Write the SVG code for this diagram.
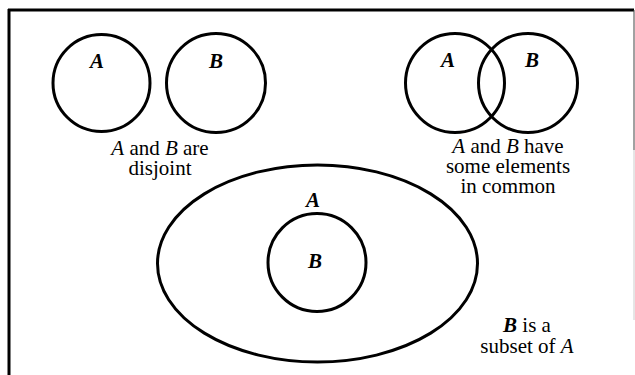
<svg xmlns="http://www.w3.org/2000/svg" width="635" height="375" viewBox="0 0 635 375">
<defs>
<style>
.s{fill:none;stroke:#000;stroke-width:3}
text{font-family:"Liberation Serif","Times New Roman",serif;font-size:21px;fill:#000;text-anchor:middle}
.l{font-style:italic;font-weight:bold}
.i{font-style:italic}
</style>
</defs>
<rect width="635" height="375" fill="#fff"/>
<g id="frame">
<line x1="8" y1="10" x2="634" y2="10" stroke="#000" stroke-width="3"/>
<line x1="9" y1="9" x2="9" y2="375" stroke="#000" stroke-width="3"/>
<line x1="634" y1="10" x2="634" y2="150" stroke="#444" stroke-width="1"/>
<line x1="634" y1="150" x2="634" y2="320" stroke="#ccc" stroke-width="1"/>
</g>
<g id="disjoint">
<circle class="s" cx="101.5" cy="83" r="48.5"/>
<circle class="s" cx="216" cy="83" r="49.5"/>
<text class="l" x="97" y="68">A</text>
<text class="l" x="216" y="68">B</text>
<text x="160" y="155"><tspan class="i">A</tspan> and <tspan class="i">B</tspan> are</text>
<text x="160" y="175">disjoint</text>
</g>
<g id="overlap">
<circle class="s" cx="455" cy="83" r="49.5"/>
<circle class="s" cx="528" cy="83" r="49.5"/>
<text class="l" x="448" y="67">A</text>
<text class="l" x="532" y="67">B</text>
<text x="508" y="153"><tspan class="i">A</tspan> and <tspan class="i">B</tspan> have</text>
<text x="508" y="173">some elements</text>
<text x="508" y="193">in common</text>
</g>
<g id="subset">
<ellipse class="s" cx="317.5" cy="263.5" rx="160" ry="98.5"/>
<circle class="s" cx="317" cy="262.5" r="49"/>
<text class="l" x="313" y="207">A</text>
<text class="l" x="315" y="268">B</text>
<text x="527" y="332"><tspan class="l">B</tspan> is a</text>
<text x="527" y="353">subset of <tspan class="i">A</tspan></text>
</g>
</svg>
